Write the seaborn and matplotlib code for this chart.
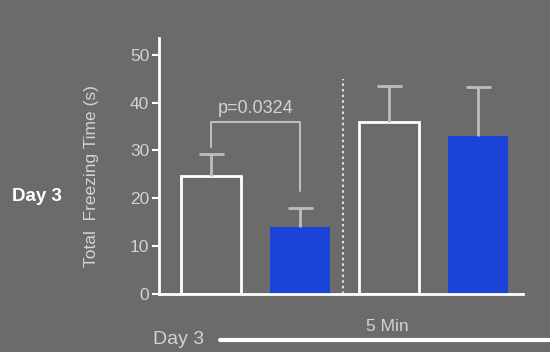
import numpy as np
import pandas as pd
import matplotlib
matplotlib.use("Agg")
import matplotlib.pyplot as plt
import seaborn as sns

# ----------------------------
# Data
# ----------------------------
groups = ["Ctrl 3", "Treat 3", "Ctrl 5", "Treat 5"]
means = [24.7, 14.0, 36.0, 33.0]
sems = [4.6, 4.0, 7.4, 10.2]
filled = [False, True, False, True]
p_text = "p=0.0324"
y_ticks = [0, 10, 20, 30, 40, 50]

bg = "#6b6b6b"
blue = "#1a44d8"
light = "#d2d2d2"

df = pd.DataFrame({"group": groups, "mean": means})

sns.set_theme(style="white")
plt.rcParams["font.family"] = ["Liberation Sans", "DejaVu Sans"]

fig = plt.figure(figsize=(5.5, 3.52), dpi=100, facecolor=bg)
ax = fig.add_axes([0.289, 0.165, 0.662, 0.727])
ax.set_facecolor(bg)

sns.barplot(data=df, x="group", y="mean", errorbar=None, width=0.67,
            palette=[blue if f else bg for f in filled], hue="group",
            saturation=1, legend=False, ax=ax)

for bar, f in zip(ax.patches, filled):
    if f:
        bar.set_edgecolor(blue)
        bar.set_linewidth(0)
    else:
        bar.set_edgecolor("white")
        bar.set_linewidth(2)

# upward-only error bars
xs = np.arange(len(groups))
eb = ax.errorbar(xs, means, yerr=[np.zeros(len(sems)), sems], fmt="none",
                 ecolor="#bdbdbd", elinewidth=2, capsize=9, capthick=2, zorder=1)
eb[1][0].set_visible(False)

# significance bracket
bx = [0, 0, 1, 1]
by = [30.8, 36.0, 36.0, 21.6]
ax.plot(bx, by, color="#bdbdbd", lw=1.5)
ax.text(0.5, 37.0, p_text, ha="center", va="bottom", color=light, fontsize=13)

# dotted separator
ax.plot([1.48, 1.48], [0, 45], color="#e0e0e0", lw=1.5, ls=(0, (1.2, 1.5)))

ax.set_xlim(-0.584, 3.505)
ax.set_ylim(0, 53.5)
ax.set_yticks(y_ticks)
ax.set_xticks([])
ax.set_xlabel("")
ax.set_ylabel("Total  Freezing Time (s)", color=light, fontsize=12.5)
ax.yaxis.set_label_coords(-0.165, 0.46)
ax.tick_params(axis="y", colors="white", labelcolor=light, labelsize=12.5,
               direction="out", length=5, width=1.5, left=True, pad=2)

for side in ["top", "right"]:
    ax.spines[side].set_visible(False)
for side in ["left", "bottom"]:
    ax.spines[side].set_color("white")
    ax.spines[side].set_linewidth(2)

# side and bottom labels
fig.text(0.022, 0.443, "Day 3", color="white", fontsize=13.5, fontweight="bold",
         ha="left", va="center")
fig.text(0.278, 0.035, "Day 3", color=light, fontsize=14, ha="left", va="center")
fig.add_artist(plt.Line2D([0.40, 1.0], [0.035, 0.035], color="white", lw=3))
fig.text(0.705, 0.073, "5 Min", color=light, fontsize=12.5, ha="center", va="center")

fig.savefig("out.png", dpi=100, facecolor=bg)
